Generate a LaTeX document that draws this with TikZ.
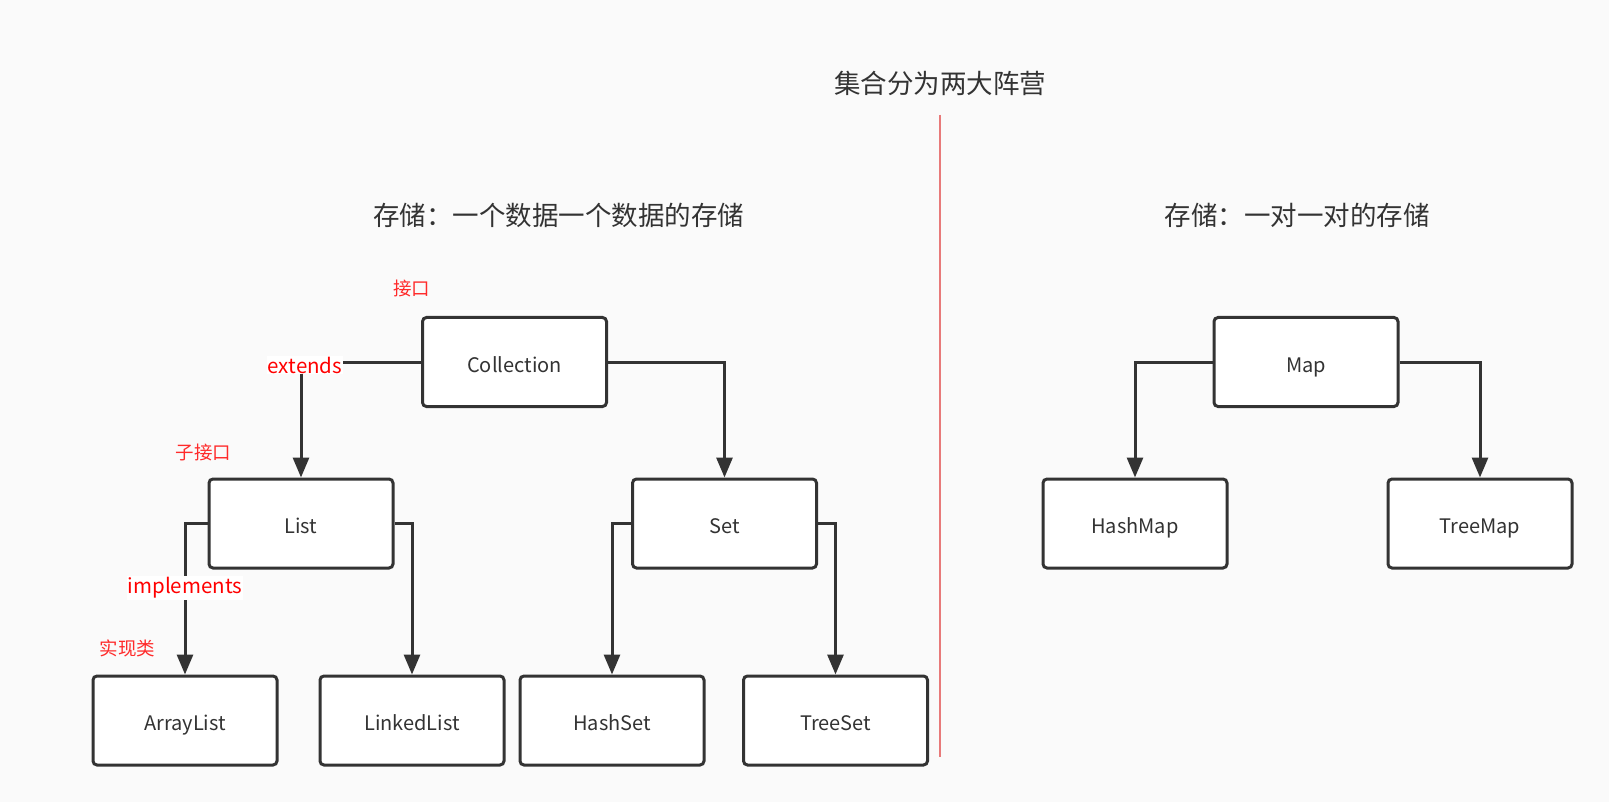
\documentclass[tikz,border=0pt]{standalone}
\usepackage{fontspec}
\setmainfont{Noto Sans CJK SC}
\usetikzlibrary{arrows.meta}
\definecolor{bg}{HTML}{FAFAFA}
\definecolor{ink}{HTML}{333333}
\definecolor{divider}{HTML}{E87A7A}
\definecolor{note}{HTML}{FF2A2A}
\begin{document}
\begin{tikzpicture}[x=1pt,y=-1pt,
  box/.style={draw=ink, fill=white, line width=3pt, rounded corners=4pt,
    minimum width=184pt, minimum height=89pt, inner sep=0pt,
    text height=20pt, text depth=0pt,
    text=ink, font=\fontsize{20}{24}\selectfont},
  link/.style={draw=ink, line width=3pt,
    -{Triangle[width=16pt,length=20pt]}},
  heading/.style={text=ink, font=\fontsize{26.5}{30}\selectfont, inner sep=0pt},
  remark/.style={text=note, font=\fontsize{18.5}{22}\selectfont, inner sep=0pt},
  relation/.style={text=red, fill=white, font=\fontsize{20.5}{24}\selectfont,
    inner sep=1pt}]
\useasboundingbox[fill=bg] (0,0) rectangle (1609,802);

% headings
\node[heading] (title) at (940,83) {集合分为两大阵营};
\node[heading] (single) at (558.5,215) {存储：一个数据一个数据的存储};
\node[heading] (pair) at (1297,215) {存储：一对一对的存储};

% divider between the two families
\coordinate (divtop) at (940,115);
\coordinate (divbot) at (940,757);
\draw[divider, line width=1.5pt] (divtop) -- (divbot);

% single-value collections
\node[box] (coll) at (514.5,362) {Collection};
\node[box] (list) at (301,523.5) {List};
\node[box] (set) at (724.5,523.5) {Set};
\node[box] (alist) at (185,720.5) {ArrayList};
\node[box] (llist) at (412,720.5) {LinkedList};
\node[box] (hset) at (612,720.5) {HashSet};
\node[box] (tset) at (835.5,720.5) {TreeSet};

% key-value collections
\node[box] (map) at (1306,362) {Map};
\node[box] (hmap) at (1135,523.5) {HashMap};
\node[box] (tmap) at (1480,523.5) {TreeMap};

% inheritance links
\draw[link] (coll.west) -| (list.north);
\draw[link] (coll.east) -| (set.north);
\draw[link] (list.west) -| (alist.north);
\draw[link] (list.east) -| (llist.north);
\draw[link] (set.west) -| (hset.north);
\draw[link] (set.east) -| (tset.north);
\draw[link] (map.west) -| (hmap.north);
\draw[link] (map.east) -| (tmap.north);

% relation labels
\node[relation] (ext) at (305,365) {extends};
\node[relation] (impl) at (185,588) {implements};

% role notes
\node[remark] (iface) at (411.5,288) {接口};
\node[remark] (subiface) at (203.5,452.5) {子接口};
\node[remark] (impls) at (127.5,648) {实现类};
\end{tikzpicture}
\end{document}
